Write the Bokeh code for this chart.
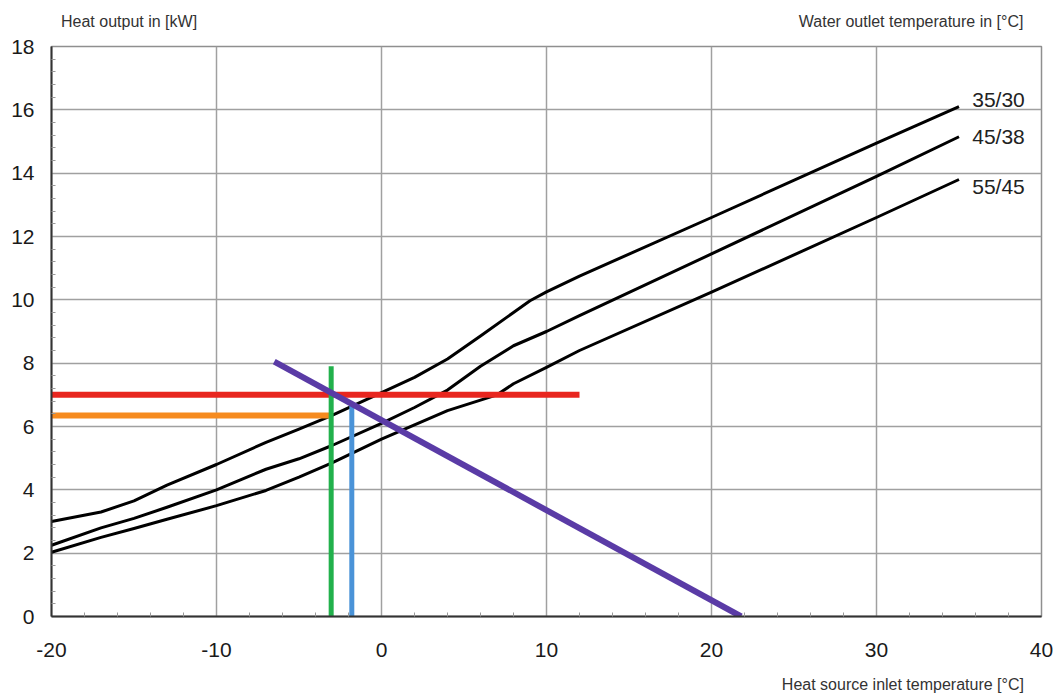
from bokeh.plotting import figure
from bokeh.models import Range1d, FixedTicker, LinearAxis
from bokeh.core.properties import value
from bokeh.embed import file_html
from bokeh.resources import INLINE

# ---- data ----
temp_35_30 = [-20, -17, -15, -13, -10, -7, -5, -3, 0, 2, 4, 6, 8, 9, 10, 12, 20, 30, 35]
out_35_30 = [3.0, 3.3, 3.65, 4.15, 4.8, 5.5, 5.92, 6.35, 7.07, 7.55, 8.13, 8.86, 9.6, 9.97, 10.25, 10.75, 12.6, 14.95, 16.1]

temp_45_38 = [-20, -17, -15, -13, -10, -7, -5, -3, 0, 2, 4, 6, 8, 10, 12, 20, 30, 35]
out_45_38 = [2.25, 2.8, 3.1, 3.45, 4.0, 4.65, 4.98, 5.4, 6.1, 6.6, 7.15, 7.9, 8.55, 9.0, 9.5, 11.45, 13.9, 15.15]

temp_55_45 = [-20, -17, -15, -13, -10, -7, -5, -3, 0, 2, 4, 7, 8, 10, 12, 20, 30, 35]
out_55_45 = [2.03, 2.5, 2.78, 3.07, 3.5, 3.98, 4.4, 4.85, 5.6, 6.05, 6.5, 7.0, 7.35, 7.87, 8.4, 10.24, 12.6, 13.8]

curve_names = ["35/30", "45/38", "55/45"]
curve_label_x = [35.8, 35.8, 35.8]
curve_label_y = [16.33, 15.16, 13.59]

purple_x = [-6.5, 21.8]
purple_y = [8.05, 0.0]
red_x = [-20, 12]
red_y = [7.0, 7.0]
orange_x = [-20, -3.05]
orange_y = [6.35, 6.35]
green_x = [-3.05, -3.05]
green_y = [0.0, 7.9]
blue_x = [-1.8, -1.8]
blue_y = [0.0, 6.72]

x_ticks = [-20, -10, 0, 10, 20, 30, 40]
x_tick_labels = ["-20", "-10", "0", "10", "20", "30", "40"]
x_minor_ticks = [-18, -16, -14, -12, -8, -6, -4, -2, 2, 4, 6, 8, 12, 14, 16, 18,
                 22, 24, 26, 28, 32, 34, 36, 38]
y_ticks = [0, 2, 4, 6, 8, 10, 12, 14, 16, 18]
y_tick_labels = ["0", "2", "4", "6", "8", "10", "12", "14", "16", "18"]
y_minor_ticks = [round(0.4 * i, 1) for i in range(1, 45) if i % 5 != 0]

title_y_axis = "Heat output in [kW]"
title_curves = "Water outlet temperature in [°C]"
title_x_axis = "Heat source inlet temperature [°C]"
# anchor positions (data x) of the title texts
title_y_axis_x = -15.3
title_curves_x = 32.1
title_x_axis_x = 31.6

FONT = "Liberation Sans"

p = figure(width=1053, height=697, x_range=Range1d(-20, 40), y_range=Range1d(0, 18),
           output_backend="svg", toolbar_location=None,
           min_border_left=51, min_border_right=12, min_border_top=46, min_border_bottom=81)
p.background_fill_color = "white"
p.border_fill_color = "white"
p.outline_line_color = "#8f8f8f"
p.outline_line_width = 1.5

p.xaxis[0].ticker = FixedTicker(ticks=x_ticks, minor_ticks=x_minor_ticks)
p.yaxis[0].ticker = FixedTicker(ticks=y_ticks, minor_ticks=y_minor_ticks)
p.xaxis[0].major_label_overrides = dict(zip(x_ticks, x_tick_labels))
p.yaxis[0].major_label_overrides = dict(zip(y_ticks, y_tick_labels))
for ax in (p.xaxis[0], p.yaxis[0]):
    ax.major_label_text_font = FONT
    ax.major_label_text_font_size = "21px"
    ax.major_label_text_color = "#1a1a1a"
    ax.axis_line_color = "#333333"
    ax.axis_line_width = 2
    ax.major_tick_in = 0
    ax.major_tick_out = 0
    ax.minor_tick_in = 4
    ax.minor_tick_out = 0
    ax.minor_tick_line_color = "#999999"
    ax.minor_tick_line_width = 1
p.xaxis[0].major_label_standoff = 26
p.yaxis[0].major_label_standoff = 17

p.xgrid.grid_line_color = "#a0a0a0"
p.ygrid.grid_line_color = "#a0a0a0"
p.xgrid.grid_line_width = 1.5
p.ygrid.grid_line_width = 1.5


def text_axis(ticks, labels, standoff):
    ax = LinearAxis(ticker=FixedTicker(ticks=ticks, minor_ticks=[]),
                    major_label_overrides=dict(zip(ticks, labels)))
    ax.axis_line_color = None
    ax.major_tick_line_color = None
    ax.minor_tick_line_color = None
    ax.major_tick_in = 0
    ax.major_tick_out = 0
    ax.major_label_standoff = standoff
    ax.major_label_text_font = FONT
    ax.major_label_text_font_size = "16px"
    ax.major_label_text_color = "#333333"
    return ax


p.add_layout(text_axis([title_y_axis_x, title_curves_x], [title_y_axis, title_curves], 17), "above")
p.add_layout(text_axis([title_x_axis_x], [title_x_axis], 16), "below")

# characteristic curves
p.line(temp_35_30, out_35_30, line_color="black", line_width=3, line_join="round")
p.line(temp_45_38, out_45_38, line_color="black", line_width=3, line_join="round")
p.line(temp_55_45, out_55_45, line_color="black", line_width=3, line_join="round")

p.text(curve_label_x, curve_label_y, text=curve_names, text_font=value(FONT),
       text_font_size="21px", text_color="#222222", text_baseline="middle", text_align="left")

# construction lines
p.line(red_x, red_y, line_color="#e8261f", line_width=6)
p.line(orange_x, orange_y, line_color="#f68b1f", line_width=6)
p.line(green_x, green_y, line_color="#22b14c", line_width=5)
p.line(blue_x, blue_y, line_color="#4a93d8", line_width=5)
p.line(purple_x, purple_y, line_color="#5a3ba6", line_width=6)

open("out.html", "w").write(file_html(p, INLINE))
